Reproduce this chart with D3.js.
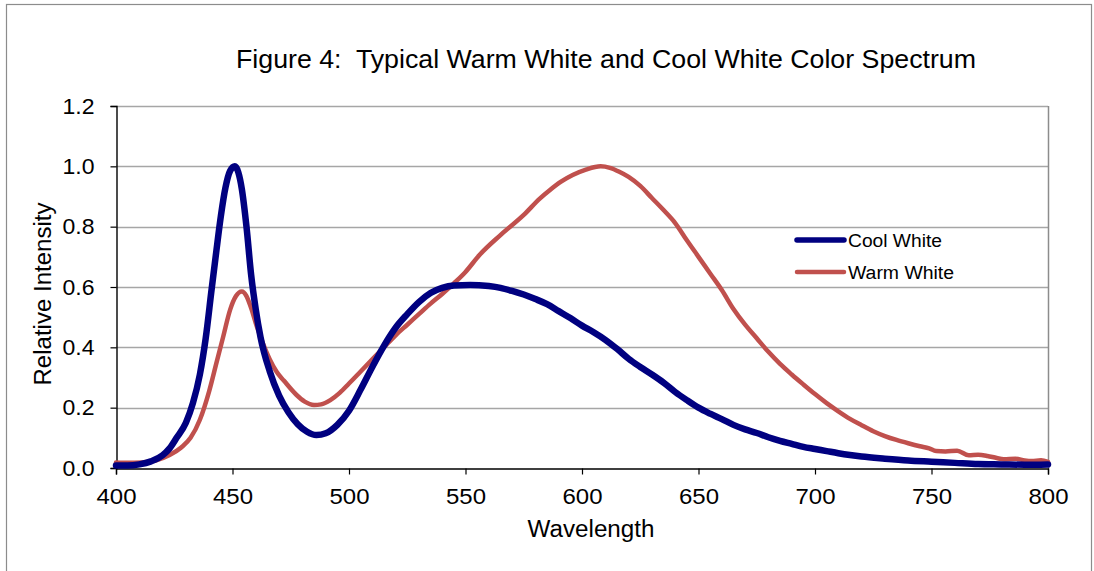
<!DOCTYPE html>
<html>
<head>
<meta charset="utf-8">
<script src="https://cdn.jsdelivr.net/npm/d3@7"></script>
<style>
  html, body { margin: 0; padding: 0; background: #fff; }
  svg { display: block; font-family: "Liberation Sans", Arial, sans-serif; }
  text { white-space: pre; }
</style>
</head>
<body>
<svg id="chart" width="1094" height="571"></svg>
<script>
// ---- data ----
const chartTitle = "Figure 4:  Typical Warm White and Cool White Color Spectrum";
const xTitle = "Wavelength";
const yTitle = "Relative Intensity";
const seriesNames = ["Cool White", "Warm White"];
const xTicks = [400, 450, 500, 550, 600, 650, 700, 750, 800];
const yTicks = [0, 0.2, 0.4, 0.6, 0.8, 1.0, 1.2];

const coolWl = [400,405,410,415,420,423,426,430,433,436,438.5,441,443,445,447,449,451,452.5,454,456,458,460,462,466,470,474,478,482,486,490,495,500,505,510,515,520,525,530,535,540,545,552,560,565,570,575,580,585,590,595,600,605,610,615,620,625,630,635,640,645,650,655,660,665,670,675,680,685,690,695,700,705,710,715,720,730,740,750,760,770,780,790,800];
const coolVal = [0.008,0.008,0.012,0.022,0.042,0.065,0.1,0.15,0.215,0.31,0.43,0.59,0.715,0.835,0.93,0.985,1.0,0.98,0.925,0.8,0.64,0.525,0.435,0.32,0.24,0.185,0.145,0.12,0.109,0.115,0.143,0.19,0.26,0.335,0.405,0.465,0.51,0.55,0.58,0.597,0.605,0.607,0.603,0.597,0.587,0.575,0.56,0.543,0.52,0.497,0.472,0.45,0.425,0.395,0.362,0.335,0.31,0.283,0.252,0.225,0.2,0.18,0.162,0.143,0.128,0.116,0.102,0.09,0.08,0.07,0.063,0.056,0.049,0.043,0.038,0.031,0.025,0.021,0.017,0.013,0.012,0.011,0.012];

const warmWl = [400,405,411,417,423,428,432,436,440,443,446,449,451.5,454,456,458,460,462,466,469,472,477.5,481,485,488,492,496,500,505,510,515,520,525,530,535,540,545,550,556,565,575,582,586,591,596,602,608,612,616,620,625,630,635,640,645,650,655,660,665,670,675,680,685,690,695,700,705,710,715,720,725,730,735,740,745,749,752,756,761,766,770,774,778,781,786,790,793,797,800];
const warmVal = [0.018,0.017,0.018,0.025,0.043,0.068,0.1,0.16,0.255,0.345,0.435,0.525,0.57,0.585,0.57,0.53,0.48,0.435,0.36,0.318,0.29,0.242,0.22,0.209,0.211,0.225,0.249,0.28,0.32,0.36,0.4,0.44,0.475,0.51,0.545,0.577,0.612,0.65,0.706,0.772,0.839,0.894,0.92,0.949,0.971,0.99,1.0,0.995,0.982,0.965,0.935,0.895,0.855,0.812,0.755,0.7,0.645,0.59,0.527,0.475,0.43,0.385,0.345,0.31,0.277,0.245,0.215,0.188,0.163,0.142,0.122,0.106,0.093,0.082,0.072,0.065,0.056,0.055,0.057,0.042,0.044,0.04,0.033,0.029,0.031,0.025,0.023,0.026,0.02];

const seriesColors = ["#000080", "#C0504D"];

// ---- layout ----
const svg = d3.select("#chart");
const L = 116, R = 1048, T = 106, B = 468;
const x = d3.scaleLinear().domain([400, 800]).range([L, R]);
const y = d3.scaleLinear().domain([0, 1.2]).range([B, T]);

// outer border
svg.append("rect").attr("x", 6.5).attr("y", 4.5).attr("width", 1085).attr("height", 600)
  .attr("fill", "none").attr("stroke", "#8c8c8c").attr("stroke-width", 1.2);

// gridlines
svg.append("g").selectAll("line").data(yTicks.filter(d => d > 0)).join("line")
  .attr("x1", L).attr("x2", R).attr("y1", d => Math.round(y(d)) + 0.5).attr("y2", d => Math.round(y(d)) + 0.5)
  .attr("stroke", "#a6a6a6").attr("stroke-width", 1.3);

// right border of plot
svg.append("line").attr("x1", R + 0.5).attr("x2", R + 0.5).attr("y1", T).attr("y2", B)
  .attr("stroke", "#8c8c8c").attr("stroke-width", 1.5);

// y axis
const yAxis = d3.axisLeft(y).tickValues(yTicks).tickFormat(d3.format(".1f")).tickSize(6).tickPadding(16);
const gy = svg.append("g").attr("transform", `translate(${L + 0.5},0)`).call(yAxis);
gy.select(".domain").attr("stroke", "#000").attr("stroke-width", 1.4);
gy.selectAll(".tick line").attr("stroke", "#000").attr("stroke-width", 1.2);
gy.selectAll(".tick text").attr("font-size", 22).attr("fill", "#000")
  .attr("font-family", "Liberation Sans, Arial, sans-serif")
  .attr("textLength", 32).attr("lengthAdjust", "spacingAndGlyphs");

// x axis
const xAxis = d3.axisBottom(x).tickValues(xTicks).tickFormat(d3.format("d")).tickSize(6).tickPadding(14);
const gx = svg.append("g").attr("transform", `translate(0,${B + 0.5})`).call(xAxis);
gx.select(".domain").attr("stroke", "#000").attr("stroke-width", 1.4);
gx.selectAll(".tick line").attr("stroke", "#000").attr("stroke-width", 1.2);
gx.selectAll(".tick text").attr("font-size", 22).attr("fill", "#000")
  .attr("font-family", "Liberation Sans, Arial, sans-serif")
  .attr("textLength", 40).attr("lengthAdjust", "spacingAndGlyphs");

// series lines
const line = d3.line().x(d => x(d[0])).y(d => y(d[1])).curve(d3.curveMonotoneX);
const warmData = warmWl.map((w, i) => [w, warmVal[i]]);
const coolData = coolWl.map((w, i) => [w, coolVal[i]]);
svg.append("path").datum(warmData).attr("d", line).attr("fill", "none")
  .attr("stroke", seriesColors[1]).attr("stroke-width", 4.5).attr("stroke-linejoin", "round").attr("stroke-linecap", "round");
svg.append("path").datum(coolData).attr("d", line).attr("fill", "none")
  .attr("stroke", seriesColors[0]).attr("stroke-width", 6.5).attr("stroke-linejoin", "round").attr("stroke-linecap", "round");

// titles
svg.append("text").attr("x", 606).attr("y", 68).attr("text-anchor", "middle")
  .attr("font-size", 25).attr("fill", "#000")
  .attr("textLength", 740).attr("lengthAdjust", "spacingAndGlyphs").text(chartTitle);
svg.append("text").attr("x", 591).attr("y", 537).attr("text-anchor", "middle")
  .attr("font-size", 23).attr("fill", "#000")
  .attr("textLength", 127).attr("lengthAdjust", "spacingAndGlyphs").text(xTitle);
svg.append("text").attr("transform", "translate(51,294) rotate(-90)").attr("text-anchor", "middle")
  .attr("font-size", 23).attr("fill", "#000")
  .attr("textLength", 183).attr("lengthAdjust", "spacingAndGlyphs").text(yTitle);

// legend
const legY = [240, 272];
const legW = [94, 106];
const lg = svg.append("g");
seriesNames.forEach((name, i) => {
  lg.append("line").attr("x1", 797).attr("x2", 844).attr("y1", legY[i]).attr("y2", legY[i])
    .attr("stroke", seriesColors[i]).attr("stroke-width", i === 0 ? 5.5 : 4.5).attr("stroke-linecap", "round");
  lg.append("text").attr("x", 848).attr("y", legY[i] + 6.5).attr("font-size", 18).attr("fill", "#000")
    .attr("textLength", legW[i]).attr("lengthAdjust", "spacingAndGlyphs").text(name);
});
</script>
</body>
</html>
